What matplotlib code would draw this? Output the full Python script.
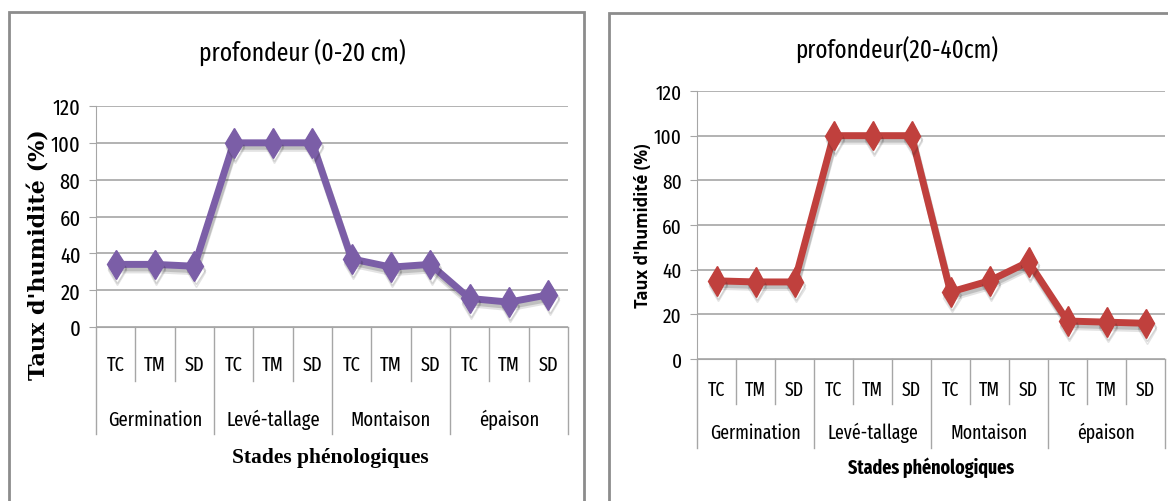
import numpy as np
import matplotlib.pyplot as plt
import matplotlib.patheffects as pe
from matplotlib.patches import Rectangle
from matplotlib.transforms import blended_transform_factory

W, H = 1168, 502

stades = ['Germination', 'Levé-tallage', 'Montaison', 'épaison']
traitements = ['TC', 'TM', 'SD']
humid_0_20 = [34, 34, 33, 100, 100, 100, 37, 32.5, 34, 15.5, 13.5, 17.5]
humid_20_40 = [35, 34.5, 34.5, 100, 100, 100, 30, 35, 43.5, 17, 16.5, 16]

narrow = ['Fira Sans Extra Condensed', 'DejaVu Sans']
serif = ['Liberation Serif', 'DejaVu Serif']


def px_axes(fig, x0, y0, x1, y1):
    # rectangle in pixel coords, y measured from the top
    return fig.add_axes([x0 / W, (H - y1) / H, (x1 - x0) / W, (y1 - y0) / H])


def panel(fig, x0, y0, x1, y1):
    fig.patches.append(Rectangle((x0 / W, (H - y1) / H), (x1 - x0) / W, (y1 - y0) / H,
                                 transform=fig.transFigure, fill=False,
                                 edgecolor='#8c8c8c', lw=2, zorder=0))


def draw(ax, values, color, tick_fs, cat_fs, inner_drop, group_drop, lab_y, grp_y):
    n = len(values)
    x = np.arange(n)
    ax.set_xlim(-0.5, n - 0.5)
    ax.set_ylim(0, 120)
    ax.set_yticks(np.arange(0, 121, 20))
    ax.yaxis.grid(True, color='#a6a6a6', lw=1.2)
    ax.set_axisbelow(True)
    for s in ['top', 'right']:
        ax.spines[s].set_visible(False)
    ax.spines['left'].set_color('#a6a6a6')
    ax.spines['bottom'].set_color('#a6a6a6')
    ax.tick_params(axis='y', length=5, color='#a6a6a6', labelsize=tick_fs, pad=6)
    ax.tick_params(axis='x', bottom=False, labelbottom=False)
    for t in ax.get_yticklabels():
        t.set_fontfamily(narrow)

    # soft drop shadow under the line and markers
    shadow = [pe.SimpleLineShadow(offset=(1, -4), shadow_color='#202020', alpha=0.12),
              pe.SimpleLineShadow(offset=(1, -2.5), shadow_color='#202020', alpha=0.18),
              pe.Normal()]
    ax.plot(x, values, color=color, lw=5, marker='d', ms=15, path_effects=shadow,
            clip_on=False, zorder=3)

    tr = blended_transform_factory(ax.transData, ax.transAxes)
    for b in range(n + 1):
        drop = group_drop if b % 3 == 0 else inner_drop
        ax.plot([b - 0.5, b - 0.5], [0, -drop], transform=tr, color='#a6a6a6',
                lw=1, clip_on=False)
    for i in range(n):
        ax.text(i, -lab_y, traitements[i % 3], transform=tr, ha='center', va='center',
                fontsize=cat_fs, family=narrow)
    for g, name in enumerate(stades):
        ax.text(3 * g + 1, -grp_y, name, transform=tr, ha='center', va='center',
                fontsize=cat_fs, family=narrow)


fig = plt.figure(figsize=(W / 100, H / 100), dpi=100)
fig.patch.set_facecolor('white')

# left panel : 0-20 cm
panel(fig, 9, 13, 584, 520)
ax1 = px_axes(fig, 96, 107, 568, 328)
h1 = 328 - 107
draw(ax1, humid_0_20, '#7b5ea7', 16, 14.5, 54 / h1, 107 / h1, 37 / h1, 92 / h1)
fig.text(302 / W, 1 - 53 / H, 'profondeur (0-20 cm)', ha='center', va='center',
         fontsize=18.5, family=narrow)
fig.text(40 / W, 1 - 255 / H, "Taux d'humidité (%)", ha='center', va='center',
         rotation=90, fontsize=16, fontweight='bold', family=['DejaVu Serif'])
fig.text(330 / W, 1 - 458 / H, 'Stades phénologiques', ha='center', va='center',
         fontsize=15.5, fontweight='bold', family=serif)

# right panel : 20-40 cm
panel(fig, 609, 14, 1200, 520)
ax2 = px_axes(fig, 697, 92, 1165, 360)
h2 = 360 - 92
draw(ax2, humid_20_40, '#c0403d', 15, 14, 45 / h2, 89 / h2, 30 / h2, 73 / h2)
fig.text(897 / W, 1 - 50 / H, 'profondeur(20-40cm)', ha='center', va='center',
         fontsize=18, family=narrow)
fig.text(643 / W, 1 - 226 / H, "Taux d'humidité (%)", ha='center', va='center',
         rotation=90, fontsize=12, fontweight='bold', family=['Open Sans', 'DejaVu Sans'])
fig.text(931 / W, 1 - 468 / H, 'Stades phénologiques', ha='center', va='center',
         fontsize=14, fontweight='bold', family=narrow)

fig.savefig('out.png', dpi=100)
